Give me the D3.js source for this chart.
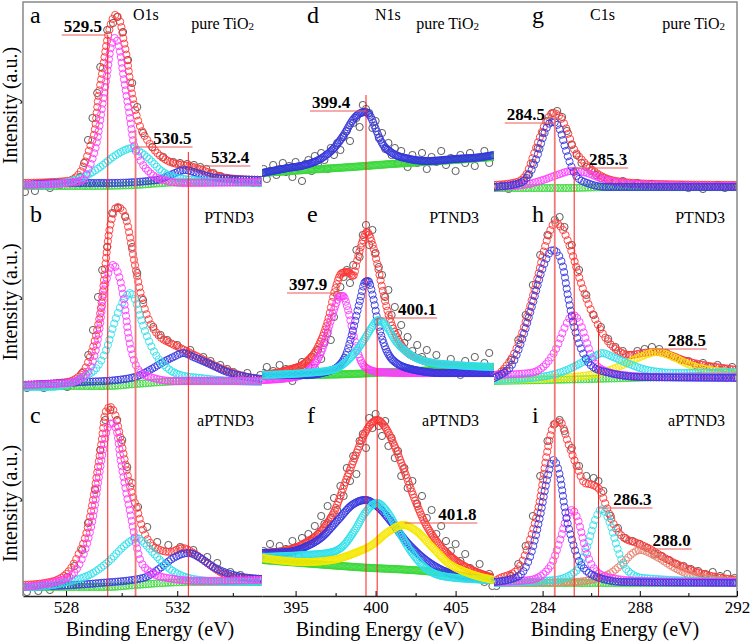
<!DOCTYPE html>
<html>
<head>
<meta charset="utf-8">
<script src="https://cdn.jsdelivr.net/npm/d3@7"></script>
<style>
  body { margin: 0; background: #fff; }
  svg { display: block; }
  svg text { font-family: "Liberation Serif", "Times New Roman", serif; }
</style>
</head>
<body>
<div id="chart"></div>
<script>
// ---- data: [binding energy (eV), intensity (a.u.)] ----

// a: O1s, pure TiO2
var rawA = [[526.52,1],[526.88,2],[527.42,5],[527.78,8],[528.14,10],[528.50,16],[528.65,30],[528.79,53],[528.95,75],[529.12,100],[529.23,126],[529.48,163],[529.69,170],[529.84,176],[530.05,161],[530.23,133],[530.38,110],[530.56,86],[530.77,60],[531.10,46],[531.50,36],[531.86,31],[532.10,30],[532.36,29],[532.60,28],[532.83,26],[533.05,24],[533.30,20],[533.55,17],[533.80,15],[534.05,13],[534.27,11],[534.50,11],[534.74,10],[534.95,10]];
var fitA = [[526.45,10],[528.04,12],[528.40,17],[528.61,26],[528.86,46],[529.05,66],[529.15,93],[529.30,120],[529.48,153],[529.66,173],[529.77,178],[529.95,171],[530.05,156],[530.20,133],[530.31,110],[530.49,83],[530.67,66],[530.92,53],[531.28,40],[531.75,31],[532.22,28],[532.58,26],[533.08,21],[533.80,15],[535.05,13]];
var bgA = [[526.45,7],[529.0,7],[530.5,8],[531.5,10],[532.5,11],[535.05,11]];
var peakA532 = [[526.45,8],[528.0,10],[529.5,10],[531.28,13],[531.75,18],[532.11,22],[532.29,23],[532.58,21],[532.94,18],[533.44,15],[535.05,13]];
var peakA530 = [[526.45,8],[527.17,8],[528.61,16],[529.23,26],[529.69,36],[530.05,42],[530.38,45],[530.67,41],[531.03,33],[531.39,23],[531.86,16],[532.58,13],[533.44,11],[535.05,10]];
var peakA529 = [[526.45,8],[528.04,10],[528.61,13],[528.79,23],[528.97,36],[529.12,53],[529.23,73],[529.33,93],[529.48,120],[529.59,143],[529.75,155],[529.93,143],[530.05,120],[530.20,93],[530.31,73],[530.41,53],[530.67,33],[531.03,20],[531.50,13],[532.22,10],[535.05,11]];

// b: O1s, PTND3
var rawB = [[526.59,7],[527.2,7],[528.04,8],[528.3,12],[528.58,22],[528.8,40],[528.97,65],[529.15,98],[529.30,125],[529.48,148],[529.66,182],[529.87,187],[530.13,178],[530.38,148],[530.56,122],[530.77,95],[531.14,68],[531.40,60],[531.64,55],[532.00,50],[532.47,45],[532.94,38],[533.20,34],[533.55,30],[533.80,26],[534.02,23],[534.52,22],[534.99,20]];
var fitB = [[526.45,10],[528.04,13],[528.61,23],[528.86,38],[529.12,65],[529.23,82],[529.33,105],[529.41,128],[529.51,155],[529.66,178],[529.84,188],[530.02,185],[530.20,172],[530.38,145],[530.56,118],[530.77,92],[531.03,72],[531.39,58],[531.75,52],[532.11,47],[532.47,42],[532.83,37],[533.30,30],[534.02,22],[535.05,15]];
var bgB = [[526.45,9],[529.5,9],[530.5,11],[531.5,13],[532.5,14],[535.05,14]];
var peakB532 = [[526.45,10],[528.61,13],[529.84,15],[530.67,20],[531.14,27],[531.50,33],[531.86,38],[532.22,42],[532.58,38],[533.08,32],[533.80,23],[535.05,16]];
var peakB530 = [[526.45,8],[527.42,8],[528.61,18],[529.12,28],[529.48,48],[529.69,68],[529.95,88],[530.20,100],[530.31,102],[530.49,95],[530.67,78],[530.92,58],[531.28,38],[531.64,27],[532.11,20],[532.83,17],[534.02,14],[535.05,13]];
var peakB529 = [[526.45,10],[528.04,12],[528.61,18],[528.94,32],[529.12,52],[529.23,72],[529.33,98],[529.48,118],[529.69,130],[529.87,122],[530.02,105],[530.13,85],[530.23,62],[530.41,38],[530.67,23],[531.14,17],[531.86,14],[535.05,14]];

// c: O1s, aPTND3
var rawC = [[526.59,4],[527.0,5],[527.42,6],[527.8,12],[528.04,19],[528.3,30],[528.58,46],[528.79,73],[529.05,106],[529.23,146],[529.41,176],[529.59,186],[529.84,176],[530.02,156],[530.20,129],[530.38,113],[530.59,89],[530.92,69],[531.28,54],[531.68,51],[532.11,49],[532.58,46],[533.08,39],[533.44,33],[533.91,24],[534.27,21],[534.6,17],[534.88,14]];
var fitC = [[526.45,11],[527.42,14],[528.04,23],[528.40,39],[528.76,66],[528.97,96],[529.15,129],[529.30,159],[529.41,183],[529.59,189],[529.77,181],[529.95,159],[530.13,133],[530.31,109],[530.56,86],[530.77,66],[531.03,53],[531.39,46],[531.75,44],[532.18,48],[532.58,43],[533.08,33],[533.55,24],[534.02,19],[535.05,17]];
var bgC = [[526.45,9],[529.5,9],[530.5,11],[531.5,13],[532.5,14],[535.05,14]];
var peakC532 = [[526.45,9],[529.23,13],[530.77,18],[531.39,28],[531.86,38],[532.40,43],[532.83,38],[533.30,29],[534.02,21],[535.05,17]];
var peakC530 = [[526.45,9],[526.81,9],[528.04,14],[528.97,23],[529.59,36],[530.05,49],[530.38,56],[530.56,58],[530.77,54],[531.14,43],[531.64,29],[532.11,21],[532.83,16],[534.02,14],[535.05,14]];
var peakC529 = [[526.45,9],[528.04,18],[528.50,33],[528.76,53],[528.97,79],[529.15,113],[529.33,146],[529.51,169],[529.66,173],[529.84,163],[529.95,139],[530.13,109],[530.31,83],[530.49,56],[530.67,36],[531.03,24],[531.64,18],[532.83,15],[535.05,16]];

// d: N1s, pure TiO2
var rawD = [[393.0,24],[393.2,14],[393.4,22],[393.6,28],[393.8,18],[394.0,24],[394.2,30],[394.4,21],[394.6,27],[394.8,16],[395.0,31],[395.2,25],[395.4,12],[395.6,29],[395.8,33],[396.0,22],[396.2,37],[396.4,28],[396.6,40],[396.8,33],[397.0,24],[397.2,45],[397.4,38],[397.6,50],[397.8,43],[398.0,56],[398.2,62],[398.4,52],[398.6,70],[398.8,75],[399.0,66],[399.2,88],[399.4,84],[399.6,80],[399.8,65],[400.0,72],[400.2,55],[400.4,60],[400.6,44],[400.8,50],[401.0,38],[401.2,45],[401.4,30],[401.6,42],[401.8,35],[402.0,26],[402.3,38],[402.6,30],[402.9,40],[403.2,24],[403.5,36],[403.8,31],[404.1,42],[404.4,28],[404.7,35],[405.0,22],[405.3,38],[405.6,30],[405.9,40],[406.2,27],[406.5,35],[406.8,42],[407.1,30],[407.3,36]];
var bgD = [[392.9,20],[395.6,23],[398.5,26],[401.0,29],[404.0,32],[407.4,36]];
var peakD399 = [[392.9,20],[394.53,25],[395.59,28],[396.65,35],[397.46,46],[398.09,60],[398.53,72],[398.95,79],[399.35,81],[399.7,76],[399.96,66],[400.4,50],[401.03,40],[401.84,35],[403.28,32],[404.96,34],[406.65,36],[407.4,38]];

// e: N1s, PTND3
var rawE = [[393.0,22],[393.2,28],[393.4,16],[393.6,24],[393.8,20],[394.0,30],[394.2,18],[394.4,26],[394.6,21],[394.8,14],[395.0,27],[395.2,24],[395.4,33],[395.6,20],[395.8,29],[396.0,38],[396.2,27],[396.4,45],[396.6,36],[396.8,52],[397.0,62],[397.2,55],[397.4,78],[397.6,100],[397.8,108],[398.0,118],[398.2,125],[398.4,112],[398.6,130],[398.8,145],[399.0,138],[399.2,160],[399.4,170],[399.6,150],[399.8,165],[400.0,142],[400.2,128],[400.4,120],[400.6,98],[400.8,105],[401.0,80],[401.2,88],[401.4,62],[401.6,70],[401.8,52],[402.0,58],[402.3,44],[402.6,50],[402.9,38],[403.2,45],[403.5,32],[403.8,40],[404.1,30],[404.4,22],[404.7,36],[405.0,28],[405.3,20],[405.6,34],[405.9,26],[406.2,38],[406.5,25],[406.8,32],[407.1,42],[407.3,28]];
var fitE = [[392.9,20],[394.53,25],[395.59,32],[396.4,48],[397.03,75],[397.46,105],[397.9,122],[398.28,123],[398.59,119],[398.9,138],[399.21,155],[399.46,163],[399.78,152],[400.09,132],[400.4,108],[400.78,82],[401.21,62],[401.84,45],[402.9,35],[404.15,30],[405.78,28],[407.4,28]];
var bgE = [[392.9,19],[396.0,20],[398.5,21],[401.0,23],[404.0,25],[407.4,27]];
var peakE398 = [[392.9,15],[394.96,18],[396.03,28],[396.65,45],[397.03,65],[397.46,88],[397.78,99],[397.96,99],[398.28,85],[398.59,62],[398.9,42],[399.34,28],[400.15,23],[401.84,22],[407.4,22]];
var peakE399 = [[392.9,20],[395.59,20],[397.28,25],[398.09,38],[398.59,65],[399.03,95],[399.34,113],[399.53,114],[399.84,98],[400.15,72],[400.59,48],[401.21,33],[402.46,25],[404.15,22],[407.4,22]];
var peakE400 = [[392.9,20],[395.59,22],[397.28,25],[398.28,35],[399.15,52],[399.78,68],[400.15,75],[400.71,68],[401.21,55],[402.03,42],[403.28,33],[404.96,30],[407.4,28]];

// f: N1s, aPTND3
var rawF = [[393.0,45],[393.2,38],[393.4,52],[393.6,44],[393.8,40],[394.0,50],[394.2,36],[394.4,47],[394.6,42],[394.8,55],[395.0,48],[395.2,40],[395.4,58],[395.6,50],[395.8,62],[396.0,55],[396.2,70],[396.4,62],[396.6,80],[396.8,72],[397.0,90],[397.2,78],[397.4,98],[397.6,86],[397.8,110],[398.0,100],[398.2,128],[398.4,115],[398.6,140],[398.8,122],[399.0,155],[399.2,162],[399.4,148],[399.6,178],[399.8,168],[400.0,182],[400.2,170],[400.4,160],[400.6,175],[400.8,150],[401.0,158],[401.2,138],[401.4,145],[401.6,120],[401.8,128],[402.0,108],[402.3,115],[402.6,92],[402.9,100],[403.2,78],[403.5,86],[403.8,62],[404.1,70],[404.4,55],[404.7,45],[405.0,52],[405.3,35],[405.6,42],[405.9,28],[406.2,20],[406.5,32],[406.8,14],[407.1,22],[407.3,10]];
var fitF = [[392.9,43],[394.53,46],[395.59,53],[396.65,66],[397.46,86],[398.09,113],[398.71,139],[399.34,163],[399.84,174],[400.09,176],[400.59,169],[401.21,149],[401.84,123],[402.46,96],[403.09,73],[403.9,53],[404.96,36],[406.03,26],[407.4,18]];
var bgF = [[392.9,36],[398.7,29],[404.15,23],[405.8,18],[407.4,16]];
var peakF399 = [[392.9,43],[394.53,44],[395.59,49],[396.65,59],[397.65,76],[398.53,91],[399.34,96],[400.15,89],[401.03,73],[401.84,56],[402.9,39],[404.15,26],[405.78,19],[407.4,16]];
var peakF400 = [[392.9,39],[395.59,41],[397.03,43],[397.9,49],[398.71,66],[399.34,83],[400.09,93],[400.78,83],[401.4,66],[402.28,43],[403.28,26],[404.53,19],[407.4,16]];
var peakF402 = [[392.9,38],[395.59,34],[397.28,36],[398.71,43],[399.78,51],[400.78,64],[401.75,71],[402.46,66],[403.53,49],[404.53,33],[405.78,23],[407.4,16]];

// g: C1s, pure TiO2
var rawG = [[282.0,5],[282.3,7],[282.6,4],[282.9,8],[283.2,12],[283.4,18],[283.6,30],[283.8,45],[284.0,60],[284.2,72],[284.4,80],[284.6,82],[284.8,76],[285.0,62],[285.2,48],[285.4,38],[285.6,30],[285.8,26],[286.0,22],[286.2,18],[286.4,15],[286.7,13],[287.0,11],[287.3,12],[287.6,9],[287.9,10],[288.2,8],[288.5,9],[288.8,7],[289.1,8],[289.4,6],[289.7,8],[290.0,5],[290.3,7],[290.6,4],[290.9,6],[291.2,8],[291.5,5],[291.8,6]];
var fitG = [[282.0,8],[282.95,11],[283.36,20],[283.6,36],[283.89,56],[284.18,73],[284.43,80],[284.72,76],[285.0,63],[285.25,46],[285.62,33],[285.95,25],[286.49,16],[287.31,11],[288.71,9],[292.0,8]];
var bgG = [[282.0,5],[285.0,5],[287.0,6],[292.0,6]];
var peakG285 = [[282.0,6],[283.19,8],[284.02,13],[284.59,18],[285.21,22],[285.83,20],[286.36,15],[287.31,10],[288.71,8],[292.0,7]];
var peakG284 = [[282.0,6],[283.07,10],[283.48,20],[283.77,36],[284.02,56],[284.3,70],[284.43,71],[284.72,63],[284.92,46],[285.13,30],[285.42,16],[285.83,10],[286.65,6],[292.0,6]];

// h: C1s, PTND3
var rawH = [[282.1,20],[282.4,24],[282.7,35],[283.0,55],[283.3,80],[283.6,110],[283.9,140],[284.2,160],[284.5,175],[284.7,178],[284.9,168],[285.2,150],[285.5,125],[285.8,100],[286.1,80],[286.4,68],[286.7,56],[287.0,48],[287.3,44],[287.6,40],[287.9,44],[288.2,46],[288.5,48],[288.8,46],[289.1,42],[289.4,38],[289.7,35],[290.0,34],[290.3,30],[290.6,32],[290.9,28],[291.2,30],[291.5,26],[291.8,28]];
var fitH = [[282.0,17],[282.25,22],[282.95,48],[283.36,78],[283.77,115],[284.18,155],[284.51,172],[284.84,165],[285.21,142],[285.54,115],[285.87,92],[286.24,72],[286.65,55],[287.06,45],[287.6,40],[288.13,42],[288.71,43],[289.24,40],[289.78,35],[290.6,30],[291.42,27],[292.0,25]];
var bgH = [[282.0,14],[286.0,16],[289.0,18],[292.0,20]];
var peakH288 = [[282.0,15],[284.59,17],[286.36,22],[287.31,30],[288.01,38],[288.71,43],[289.37,38],[290.07,30],[290.89,25],[292.0,22]];
var peakH286 = [[282.0,15],[283.89,18],[285.0,25],[285.66,33],[286.24,40],[286.44,42],[286.9,38],[287.47,32],[288.3,25],[289.53,22],[292.0,23]];
var peakH285 = [[282.0,20],[283.48,22],[284.18,32],[284.59,48],[284.92,68],[285.25,80],[285.54,72],[285.83,52],[286.07,35],[286.49,25],[287.31,20],[288.71,18],[292.0,18]];
var peakH284 = [[282.0,17],[282.25,20],[282.78,32],[283.19,58],[283.6,92],[284.02,128],[284.43,145],[284.8,132],[285.05,98],[285.33,65],[285.66,42],[286.07,28],[286.77,22],[288.01,18],[292.0,17]];

// i: C1s, aPTND3
var rawI = [[282.1,10],[282.4,14],[282.7,20],[283.0,32],[283.3,50],[283.6,80],[283.9,120],[284.2,155],[284.5,172],[284.7,176],[284.9,165],[285.2,148],[285.5,130],[285.8,120],[286.1,118],[286.3,115],[286.5,105],[286.8,80],[287.1,68],[287.4,58],[287.7,55],[288.0,52],[288.3,48],[288.6,42],[288.9,40],[289.2,36],[289.5,32],[289.8,30],[290.1,27],[290.4,25],[290.7,22],[291.0,24],[291.3,20],[291.6,22],[291.9,18]];
var fitI = [[282.0,14],[282.11,16],[282.95,26],[283.48,56],[283.89,96],[284.18,143],[284.51,173],[284.72,174],[285.05,153],[285.42,129],[285.74,113],[286.07,111],[286.36,106],[286.57,93],[286.9,73],[287.31,59],[287.88,53],[288.34,48],[288.95,39],[289.78,29],[290.77,21],[292.0,16]];
var bgI = [[282.0,13],[287.0,13],[292.0,14]];
var peakI288 = [[282.0,13],[285.25,14],[286.65,21],[287.31,33],[287.72,43],[288.01,46],[288.71,39],[289.37,29],[290.35,19],[292.0,15]];
var peakI286 = [[282.0,13],[284.51,16],[285.42,26],[285.83,49],[286.16,76],[286.44,87],[286.77,73],[287.1,46],[287.47,26],[288.13,18],[292.0,14]];
var peakI285 = [[282.0,14],[283.48,16],[284.3,29],[284.72,56],[285.0,79],[285.21,86],[285.46,76],[285.74,49],[286.07,29],[286.65,19],[288.01,15],[292.0,14]];
var peakI284 = [[282.0,14],[282.95,19],[283.48,39],[283.89,79],[284.18,116],[284.43,136],[284.72,119],[284.92,86],[285.21,56],[285.54,33],[286.24,19],[287.31,14],[292.0,13]];

// axis ticks
var o1sTicks = [528, 532], o1sMinor = [530, 534];
var n1sTicks = [395, 400, 405], n1sMinor = [397.5, 402.5];
var c1sTicks = [284, 288, 292], c1sMinor = [286, 290];

// text
var coreLevels = ["O1s", "N1s", "C1s"];
var samples = ["pure TiO", "PTND3", "aPTND3"];
var letters = ["a", "b", "c", "d", "e", "f", "g", "h", "i"];

// labelled peak positions (panel, energy, intensity of the marker line)
var peakLabels = [
  {panel: "a", e: 529.5, level: 158}, {panel: "a", e: 530.5, level: 46}, {panel: "a", e: 532.4, level: 27},
  {panel: "d", e: 399.4, level: 82}, {panel: "e", e: 397.9, level: 102}, {panel: "e", e: 400.1, level: 77},
  {panel: "f", e: 401.8, level: 73},
  {panel: "g", e: 284.5, level: 70}, {panel: "g", e: 285.3, level: 25}, {panel: "h", e: 288.5, level: 46},
  {panel: "i", e: 286.3, level: 88}, {panel: "i", e: 288.0, level: 47}
];
// vertical guide lines (panel where they start, energy, start intensity)
var guideLines = [
  {panel: "a", e: 529.5, level: 158}, {panel: "a", e: 530.5, level: 63}, {panel: "a", e: 532.4, level: 41},
  {panel: "d", e: 399.4, level: 98}, {panel: "e", e: 400.1, level: 77},
  {panel: "g", e: 284.5, level: 83}, {panel: "g", e: 285.3, level: 25}, {panel: "h", e: 286.3, level: 70}
];

// ---- layout ----
var svgWidth = 750, svgHeight = 642;
var axisY = 596;
var serif = "'Liberation Serif', 'Times New Roman', serif";
var rows = [{top: 2, bottom: 193}, {top: 193, bottom: 395}, {top: 395, bottom: 596}];
var cols = [
  {left: 23, right: 262, domain: [526.45, 535.05], ticks: o1sTicks, minor: o1sMinor, step: 2.4, titleX: 150, sampleX: 254, coreX: 133},
  {left: 262, right: 494, domain: [392.9, 407.4], ticks: n1sTicks, minor: n1sMinor, step: 1.1, titleX: 380, sampleX: 479, coreX: 375},
  {left: 494, right: 737, domain: [282, 292], ticks: c1sTicks, minor: c1sMinor, step: 2.4, titleX: 615, sampleX: 725, coreX: 590}
];
var arcStep = 5.5;
var colors = {raw: "#4a4a4a", fit: "#ff3535", bg: "#3ad83a", blue: "#3535e0", cyan: "#2ee0ea",
  pink: "#ff3cff", yellow: "#f5e800", salmon: "#e8826e"};

// panel -> arrays
var panels = {
  a: {col: 0, row: 0, raw: rawA, fit: fitA, comps: [[bgA, "bg"], [peakA532, "blue"], [peakA530, "cyan"], [peakA529, "pink"]]},
  b: {col: 0, row: 1, raw: rawB, fit: fitB, comps: [[bgB, "bg"], [peakB532, "blue"], [peakB530, "cyan"], [peakB529, "pink"]]},
  c: {col: 0, row: 2, raw: rawC, fit: fitC, comps: [[bgC, "bg"], [peakC532, "blue"], [peakC530, "cyan"], [peakC529, "pink"]]},
  d: {col: 1, row: 0, raw: rawD, fit: null, comps: [[bgD, "bg"], [peakD399, "blue"]]},
  e: {col: 1, row: 1, raw: rawE, fit: fitE, comps: [[bgE, "bg"], [peakE398, "pink"], [peakE399, "blue"], [peakE400, "cyan"]]},
  f: {col: 1, row: 2, raw: rawF, fit: fitF, comps: [[bgF, "bg"], [peakF399, "blue"], [peakF400, "cyan"], [peakF402, "yellow"]]},
  g: {col: 2, row: 0, raw: rawG, fit: fitG, comps: [[bgG, "bg"], [peakG285, "pink"], [peakG284, "blue"]]},
  h: {col: 2, row: 1, raw: rawH, fit: fitH, comps: [[bgH, "bg"], [peakH288, "yellow"], [peakH286, "cyan"], [peakH285, "pink"], [peakH284, "blue"]]},
  i: {col: 2, row: 2, raw: rawI, fit: fitI, comps: [[bgI, "bg"], [peakI288, "salmon"], [peakI286, "cyan"], [peakI285, "pink"], [peakI284, "blue"]]}
};
// label underline length (negative = label left of the peak line)
var labelLen = {"529.5": -46, "530.5": 57, "532.4": 62, "399.4": -56, "397.9": -55, "400.1": 60,
  "401.8": 73, "284.5": -50, "285.3": 54, "288.5": 55, "286.3": 54, "288.0": 52};
var softLines = ["530.5", "284.5"];

var svg = d3.select("#chart").append("svg")
  .attr("width", svgWidth)
  .attr("height", svgHeight);

cols.forEach(function (c) {
  c.x = d3.scaleLinear().domain(c.domain).range([c.left, c.right]);
});
rows.forEach(function (r) {
  r.y = d3.scaleLinear().domain([0, r.bottom - r.top]).range([r.bottom, r.top]);
});

var defs = svg.append("defs");
cols.forEach(function (c, i) {
  defs.append("clipPath").attr("id", "clip" + i)
    .append("rect")
    .attr("x", c.left).attr("y", 2)
    .attr("width", c.right - c.left).attr("height", axisY - 2);
});

function rings(g, pts, color) {
  g.selectAll(null)
    .data(pts)
    .enter()
    .append("circle")
    .attr("cx", d => d[0])
    .attr("cy", d => d[1])
    .attr("r", 3.6)
    .attr("fill", "none")
    .attr("stroke", color)
    .attr("stroke-width", 0.9);
}

// fitted curves are drawn as open-circle symbols spaced along the curve
function fitCurve(g, data, x, y, color, step) {
  var line = d3.line()
    .x(d => x(d[0]))
    .y(d => y(d[1]))
    .curve(d3.curveMonotoneX);
  var path = g.append("path")
    .attr("d", line(data))
    .attr("fill", "none")
    .attr("stroke", "none");
  var node = path.node();
  var L = node.getTotalLength();
  var pts = [], last = null;
  for (var l = 0; l <= L; l += 0.4) {
    var p = node.getPointAtLength(l);
    if (!last || p.x - last[0] >= step || Math.hypot(p.x - last[0], p.y - last[1]) >= arcStep) {
      last = [p.x, p.y];
      pts.push(last);
    }
  }
  rings(g, pts, color);
}

Object.keys(panels).forEach(function (key) {
  var p = panels[key];
  var c = cols[p.col], r = rows[p.row];
  var g = svg.append("g").attr("clip-path", "url(#clip" + p.col + ")");

  rings(g, p.raw.map(d => [c.x(d[0]), r.y(d[1])]), colors.raw);
  if (p.fit) fitCurve(g, p.fit, c.x, r.y, colors.fit, c.step);
  p.comps.forEach(function (comp) {
    fitCurve(g, comp[0], c.x, r.y, colors[comp[1]], c.step);
  });
});

// vertical guide lines
guideLines.forEach(function (v) {
  var p = panels[v.panel];
  var xx = cols[p.col].x(v.e);
  var soft = softLines.indexOf(v.e.toFixed(1)) >= 0;
  svg.append("line")
    .attr("x1", xx).attr("x2", xx)
    .attr("y1", rows[p.row].y(v.level)).attr("y2", axisY)
    .attr("stroke", soft ? "#f07878" : "#ff1f1f")
    .attr("stroke-width", soft ? 1.8 : 1);
});

// peak labels
peakLabels.forEach(function (d) {
  var p = panels[d.panel];
  var txt = d.e.toFixed(1);
  var x0 = cols[p.col].x(d.e);
  var yy = rows[p.row].y(d.level);
  var len = labelLen[txt];
  svg.append("line")
    .attr("x1", len < 0 ? x0 + len : x0)
    .attr("x2", len < 0 ? x0 : x0 + len)
    .attr("y1", yy).attr("y2", yy)
    .attr("stroke", "#f05a5a")
    .attr("stroke-width", 1.2);
  svg.append("text")
    .attr("x", len < 0 ? x0 + len + 2 : x0 + len - 1)
    .attr("y", yy - 3)
    .attr("text-anchor", len < 0 ? "start" : "end")
    .attr("font-family", serif)
    .attr("font-size", "17px")
    .attr("font-weight", "bold")
    .text(txt);
});

// frame
svg.append("path")
  .attr("d", "M23,596V2H737V596")
  .attr("fill", "none")
  .attr("stroke", "#888")
  .attr("stroke-width", 1.5);

// bottom axes
cols.forEach(function (c) {
  var ax = svg.append("g")
    .attr("transform", "translate(0," + axisY + ")")
    .call(d3.axisBottom(c.x).tickValues(c.ticks).tickSize(-5).tickSizeOuter(0).tickPadding(5));
  ax.attr("font-family", serif);
  ax.select(".domain").attr("stroke", "#222").attr("stroke-width", 1.3);
  ax.selectAll("text").attr("font-size", "17px").attr("font-family", serif).attr("fill", "#000");
  svg.append("g")
    .attr("transform", "translate(0," + axisY + ")")
    .call(d3.axisBottom(c.x).tickValues(c.minor).tickSize(-3).tickSizeOuter(0).tickFormat(""))
    .select(".domain").remove();

  svg.append("text")
    .attr("x", c.titleX)
    .attr("y", 636)
    .attr("text-anchor", "middle")
    .attr("font-family", serif)
    .attr("font-size", "20px")
    .text("Binding Energy (eV)");
});

// y titles
rows.forEach(function (r) {
  svg.append("text")
    .attr("transform", "translate(17," + ((r.top + r.bottom) / 2 + 8) + ") rotate(-90)")
    .attr("text-anchor", "middle")
    .attr("font-family", serif)
    .attr("font-size", "20px")
    .text("Intensity (a.u.)");
});

// panel letters, core levels, sample names
var letterY = [23, 222, 423], sampleY = [29, 223, 426];
Object.keys(panels).forEach(function (key, k) {
  var p = panels[key];
  var c = cols[p.col];
  svg.append("text")
    .attr("x", c.left + (p.col === 0 ? 7 : (p.col === 1 ? 45 : 38)))
    .attr("y", letterY[p.row])
    .attr("font-family", serif)
    .attr("font-size", "24px")
    .text(letters[k]);

  var s = svg.append("text")
    .attr("x", c.sampleX)
    .attr("y", sampleY[p.row])
    .attr("text-anchor", "end")
    .attr("font-family", serif)
    .attr("font-size", "16px")
    .text(samples[p.row]);
  if (p.row === 0) {
    s.append("tspan").attr("font-size", "11px").attr("dy", 1).text("2");
    svg.append("text")
      .attr("x", c.coreX)
      .attr("y", 20)
      .attr("font-family", serif)
      .attr("font-size", "16px")
      .text(coreLevels[p.col]);
  }
});
</script>
</body>
</html>
